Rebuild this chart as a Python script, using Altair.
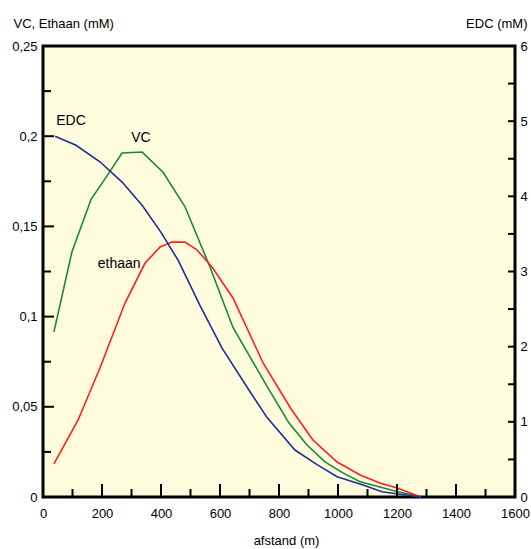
import altair as alt
import pandas as pd

# afstand (m) and concentrations read along each profile
dist_vc = [37, 98, 163, 217, 268, 336, 407, 481, 566, 644, 708, 763, 834, 895, 956, 1015, 1075, 1142, 1200, 1281]
vc = [0.0915, 0.1358, 0.165, 0.178, 0.1907, 0.1912, 0.180, 0.161, 0.1275, 0.094, 0.0759, 0.0604,
      0.041, 0.0288, 0.0195, 0.0135, 0.0085, 0.0055, 0.003, 0.0]

dist_eth = [37, 119, 193, 278, 346, 397, 437, 481, 522, 573, 644, 746, 841, 915, 997, 1075, 1142, 1200, 1281]
eth = [0.0183, 0.0427, 0.0715, 0.1075, 0.1297, 0.1386, 0.1413, 0.1413, 0.137, 0.1275, 0.1103,
       0.0743, 0.0488, 0.0316, 0.0194, 0.0122, 0.0078, 0.005, 0.0]

dist_edc = [41, 112, 193, 268, 336, 400, 458, 532, 607, 692, 759, 854, 929, 997, 1085, 1149, 1281]
edc = [4.80, 4.68, 4.46, 4.19, 3.88, 3.52, 3.15, 2.55, 1.98, 1.46, 1.06, 0.625, 0.43, 0.27, 0.16, 0.07, 0.0]

# curve labels: text, x (m), y (left axis, mM)
label_text = ["EDC", "VC", "ethaan"]
label_x = [95, 332, 258]
label_y = [0.2062, 0.1968, 0.1269]

x_major = [0, 200, 400, 600, 800, 1000, 1200, 1400, 1600]
x_minor = [100, 300, 500, 700, 900, 1100, 1300, 1500]
yl_major = [0, 0.05, 0.1, 0.15, 0.2, 0.25]
yl_minor = [0.025, 0.075, 0.125, 0.175, 0.225]
yr_labels = [0, 1, 2, 3, 4, 5, 6]
yr_ticks = [0.5, 1, 1.5, 2, 2.5, 3, 3.5, 4, 4.5, 5, 5.5]

W, H = 472, 451
FONT = "Liberation Sans, Arial, sans-serif"

df_vc = pd.DataFrame({"afstand": dist_vc, "conc": vc})
df_eth = pd.DataFrame({"afstand": dist_eth, "conc": eth})
df_edc = pd.DataFrame({"afstand": dist_edc, "conc": edc})
df_lab = pd.DataFrame({"t": label_text, "afstand": label_x, "conc": label_y})

xs = alt.Scale(domain=[0, 1600], nice=False, zero=False)
yl = alt.Scale(domain=[0, 0.25], nice=False)
yr = alt.Scale(domain=[0, 6], nice=False)

txt = dict(domain=False, grid=False, ticks=False,
           labelFont=FONT, labelFontSize=13, labelColor="black",
           titleFont=FONT, titleFontSize=13, titleColor="black",
           titleFontWeight="normal", labelFlush=False, labelOverlap=False)

x_axis = alt.Axis(values=x_major, orient="bottom", labelPadding=10, format="d",
                  title="afstand (m)", titleX=243, titleY=47, titleBaseline="alphabetic", **txt)

yl_axis = alt.Axis(values=yl_major, orient="left", labelPadding=6,
                   labelExpr="replace(format(datum.value, '.2~f'), '.', ',')",
                   title="VC, Ethaan (mM)", titleAngle=0, titleAlign="left",
                   titleX=-30, titleY=-19, titleBaseline="alphabetic", **txt)

yr_axis = alt.Axis(values=yr_labels, orient="right", labelPadding=5, format="d",
                   title="EDC (mM)", titleAngle=0, titleAlign="right",
                   titleX=12, titleY=-19, titleBaseline="alphabetic", **txt)

vc_line = alt.Chart(df_vc).mark_line(color="#178a3a", strokeWidth=1.6).encode(
    x=alt.X("afstand:Q", scale=xs, axis=x_axis),
    y=alt.Y("conc:Q", scale=yl, axis=yl_axis),
)

eth_line = alt.Chart(df_eth).mark_line(color="#ff1f1f", strokeWidth=1.6).encode(
    x=alt.X("afstand:Q", scale=xs, axis=None),
    y=alt.Y("conc:Q", scale=yl, axis=None),
)

edc_line = alt.Chart(df_edc).mark_line(color="#1f2e9c", strokeWidth=1.6).encode(
    x=alt.X("afstand:Q", scale=xs, axis=None),
    y=alt.Y("conc:Q", scale=yr, axis=yr_axis),
)

labels = alt.Chart(df_lab).mark_text(font=FONT, fontSize=14, color="black",
                                     align="center", baseline="alphabetic").encode(
    x=alt.X("afstand:Q", scale=xs, axis=None),
    y=alt.Y("conc:Q", scale=yl, axis=None),
    text="t:N",
)


# inward-pointing tick marks along the frame
def y_ticks(values, scale, center, length):
    return alt.Chart(pd.DataFrame({"v": values})).mark_tick(
        color="#000000", thickness=2, size=length, opacity=1).encode(
        y=alt.Y("v:Q", scale=scale, axis=None),
        x=alt.value(center),
    )


def x_ticks(values, length):
    return alt.Chart(pd.DataFrame({"v": values})).mark_tick(
        color="#000000", thickness=2, size=length, opacity=1).encode(
        x=alt.X("v:Q", scale=xs, axis=None),
        y=alt.value(H - length / 2),
    )


ticks = [
    y_ticks(yl_major, yl, 5.5, 11),
    y_ticks(yl_minor, yl, 4, 8),
    y_ticks(yr_ticks, yr, W - 3.5, 7),
    x_ticks(x_major, 13),
    x_ticks(x_minor, 8),
]

chart = alt.layer(vc_line, eth_line, edc_line, *ticks, labels).resolve_scale(
    x="independent", y="independent"
).properties(
    width=W, height=H,
    autosize=alt.AutoSizeParams(type="none"),
    padding={"left": 43, "top": 46, "right": 16, "bottom": 52},
).configure_view(
    fill="#fffbdd", stroke="black", strokeWidth=3
)

chart.save("out.html", embed_options={"renderer": "svg", "actions": False})
